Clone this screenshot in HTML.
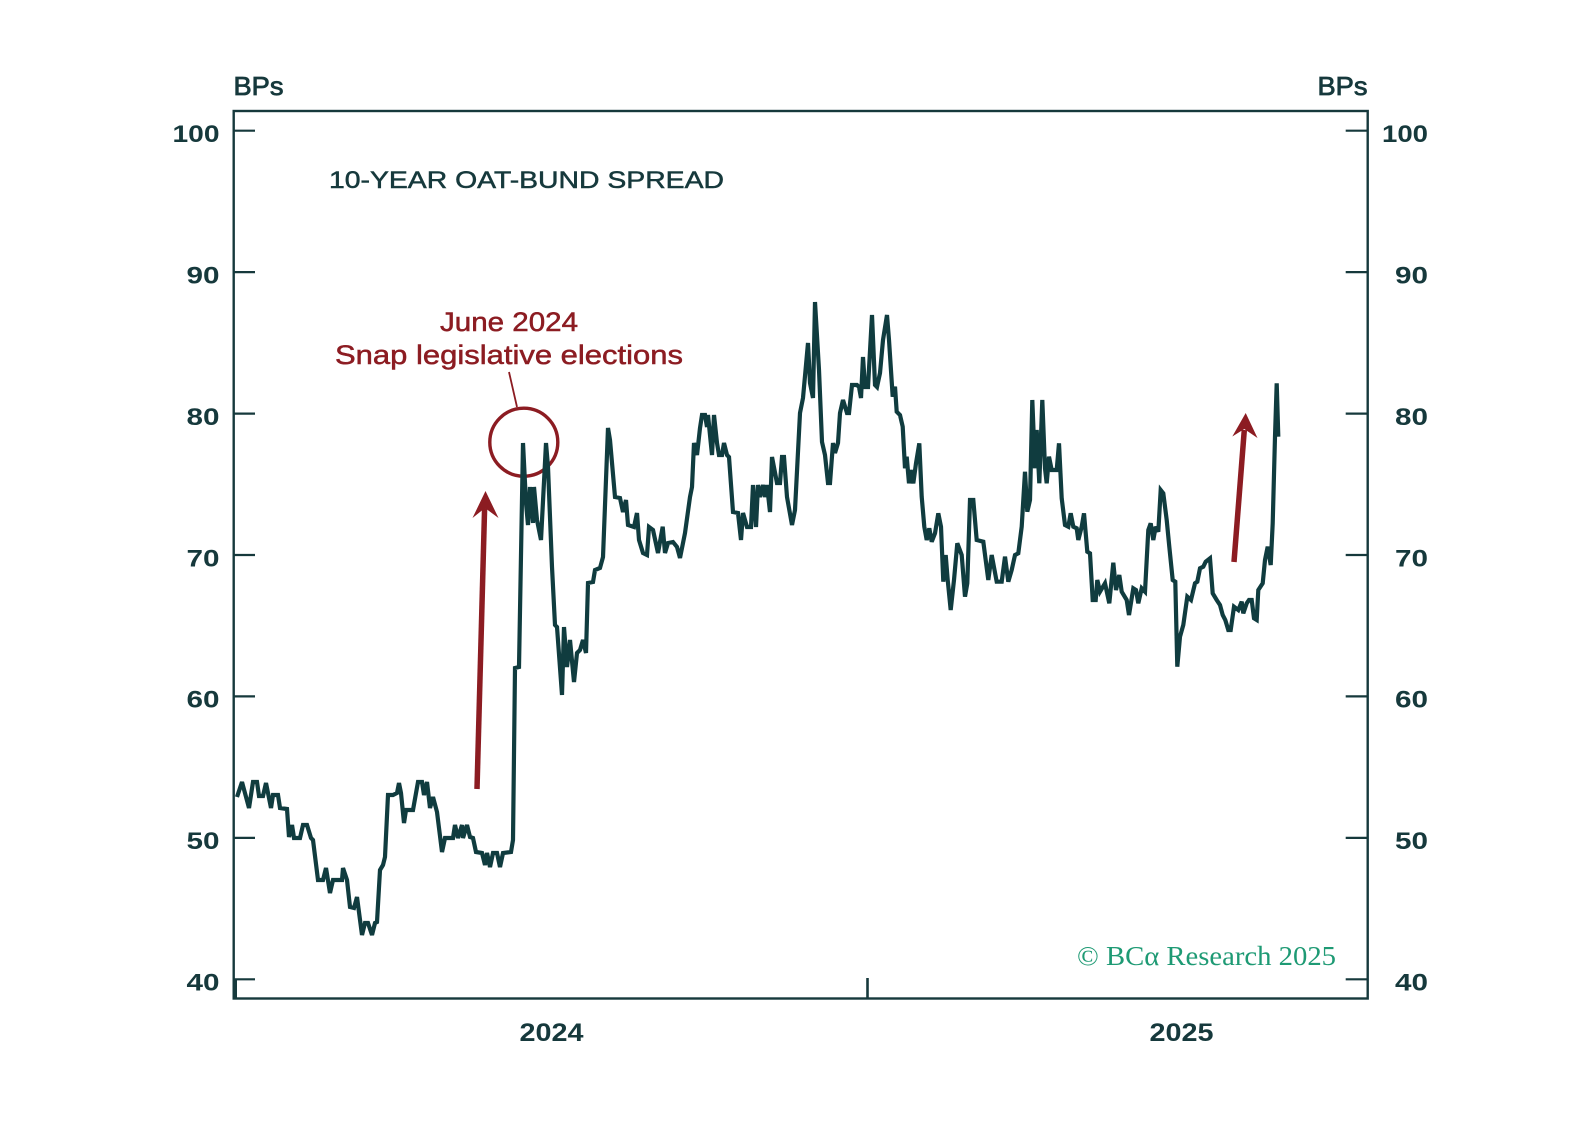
<!DOCTYPE html>
<html>
<head>
<meta charset="utf-8">
<style>
  html, body { margin:0; padding:0; background:#ffffff; }
  svg { display:block; }
</style>
</head>
<body>
<svg width="1593" height="1144" viewBox="0 0 1593 1144" xmlns="http://www.w3.org/2000/svg">
  <rect x="0" y="0" width="1593" height="1144" fill="#ffffff"/>

  <!-- Frame -->
  <rect x="233.7" y="111" width="1134" height="887.5" fill="none" stroke="#16393c" stroke-width="2.4"/>

  <!-- Left ticks -->
  <g stroke="#16393c" stroke-width="2.2">
    <line x1="233.7" y1="130.7" x2="255" y2="130.7"/>
    <line x1="233.7" y1="272.1" x2="255" y2="272.1"/>
    <line x1="233.7" y1="413.6" x2="255" y2="413.6"/>
    <line x1="233.7" y1="555" x2="255" y2="555"/>
    <line x1="233.7" y1="696.4" x2="255" y2="696.4"/>
    <line x1="233.7" y1="837.9" x2="255" y2="837.9"/>
    <line x1="233.7" y1="979.3" x2="255" y2="979.3"/>
    <!-- Right ticks -->
    <line x1="1345.7" y1="130.7" x2="1367.7" y2="130.7"/>
    <line x1="1345.7" y1="272.1" x2="1367.7" y2="272.1"/>
    <line x1="1345.7" y1="413.6" x2="1367.7" y2="413.6"/>
    <line x1="1345.7" y1="555" x2="1367.7" y2="555"/>
    <line x1="1345.7" y1="696.4" x2="1367.7" y2="696.4"/>
    <line x1="1345.7" y1="837.9" x2="1367.7" y2="837.9"/>
    <line x1="1345.7" y1="979.3" x2="1367.7" y2="979.3"/>
  </g>
  <!-- X ticks -->
  <line x1="235.5" y1="979" x2="235.5" y2="998" stroke="#16393c" stroke-width="3"/>
  <line x1="867.5" y1="978" x2="867.5" y2="998" stroke="#16393c" stroke-width="2.6"/>

  <!-- Tick labels left -->
  <g font-family="Liberation Sans, sans-serif" font-weight="bold" font-size="24" fill="#16393c" text-anchor="end">
    <text x="219.5" y="142" textLength="47" lengthAdjust="spacingAndGlyphs">100</text>
    <text x="219.5" y="283.4" textLength="33" lengthAdjust="spacingAndGlyphs">90</text>
    <text x="219.5" y="424.9" textLength="33" lengthAdjust="spacingAndGlyphs">80</text>
    <text x="219.5" y="566.3" textLength="33" lengthAdjust="spacingAndGlyphs">70</text>
    <text x="219.5" y="707.7" textLength="33" lengthAdjust="spacingAndGlyphs">60</text>
    <text x="219.5" y="849.2" textLength="33" lengthAdjust="spacingAndGlyphs">50</text>
    <text x="219.5" y="990.6" textLength="33" lengthAdjust="spacingAndGlyphs">40</text>
  </g>
  <!-- Tick labels right -->
  <g font-family="Liberation Sans, sans-serif" font-weight="bold" font-size="24" fill="#16393c" text-anchor="end">
    <text x="1428" y="142" textLength="46" lengthAdjust="spacingAndGlyphs">100</text>
    <text x="1428" y="283.4" textLength="33" lengthAdjust="spacingAndGlyphs">90</text>
    <text x="1428" y="424.9" textLength="33" lengthAdjust="spacingAndGlyphs">80</text>
    <text x="1428" y="566.3" textLength="33" lengthAdjust="spacingAndGlyphs">70</text>
    <text x="1428" y="707.7" textLength="33" lengthAdjust="spacingAndGlyphs">60</text>
    <text x="1428" y="849.2" textLength="33" lengthAdjust="spacingAndGlyphs">50</text>
    <text x="1428" y="990.6" textLength="33" lengthAdjust="spacingAndGlyphs">40</text>
  </g>

  <!-- Axis unit labels -->
  <g font-family="Liberation Sans, sans-serif" font-size="26" fill="#16393c" stroke="#16393c" stroke-width="0.8">
    <text x="233.5" y="95" textLength="50" lengthAdjust="spacingAndGlyphs">BPs</text>
    <text x="1367.5" y="95" text-anchor="end" textLength="50" lengthAdjust="spacingAndGlyphs">BPs</text>
  </g>

  <!-- Year labels -->
  <g font-family="Liberation Sans, sans-serif" font-weight="bold" font-size="25" fill="#16393c" text-anchor="middle">
    <text x="551.5" y="1041" textLength="64" lengthAdjust="spacingAndGlyphs">2024</text>
    <text x="1181.5" y="1041" textLength="64" lengthAdjust="spacingAndGlyphs">2025</text>
  </g>

  <!-- Title -->
  <text x="329" y="188" font-family="Liberation Sans, sans-serif" font-size="24" fill="#16393c" stroke="#16393c" stroke-width="0.5" textLength="395" lengthAdjust="spacingAndGlyphs">10-YEAR OAT-BUND SPREAD</text>

  <!-- Annotation -->
  <g font-family="Liberation Sans, sans-serif" font-size="26.5" fill="#8c1c22" stroke="#8c1c22" stroke-width="0.5">
    <text x="440" y="331" textLength="138" lengthAdjust="spacingAndGlyphs">June 2024</text>
    <text x="335" y="364" textLength="348" lengthAdjust="spacingAndGlyphs">Snap legislative elections</text>
  </g>
  <line x1="509" y1="372" x2="517" y2="407" stroke="#8c1c22" stroke-width="1.8"/>
  <circle cx="523.8" cy="442.2" r="34" fill="none" stroke="#8c1c22" stroke-width="3.4"/>

  <!-- Series -->
  <path fill="none" stroke="#103c3f" stroke-width="4.2" stroke-linejoin="miter" stroke-miterlimit="3" stroke-linecap="butt" d="
M237,797 L242,782 L249,808 L253,782 L257,782 L259,796 L263,796 L266,783 L268,793 L271,808 L273,795 L278,795 L280,808 L287,809 L289,837 L292,825 L294,838 L300,838 L303,825 L307,825 L311,838 L313,840 L318,880 L323,880 L326,868 L330,893 L333,880 L342,880 L343,868 L347,880 L350,907 L354,908 L357,897 L362,935 L365,923 L368,923 L372,935 L375,923 L377,922 L380,870 L383,865 L385,857 L388,795 L393,795 L397,793 L399,783 L401,793 L404,823 L406,810 L413,810 L418,782 L422,782 L424,795 L427,782 L430,808 L433,797 L437,812 L442,852 L445,838 L453,838 L455,825 L458,838 L462,825 L463,838 L467,825 L470,837 L473,838 L476,852 L482,853 L485,865 L487,853 L490,867 L493,853 L497,853 L500,867 L503,853 L511,852
L513,840 L515,668 L519,667 L523,443 L526,503 L528,525 L530,487 L533,523 L534,487 L537,520 L541,540 L546,443 L548,467 L552,567 L555,625 L557,627 L562,695 L564,627 L567,667 L570,640 L574,682 L577,653 L580,650 L583,640 L586,653 L588,583 L593,582 L595,570 L600,568 L603,557 L608,428 L610,440 L615,497 L620,498 L623,512 L626,500 L628,525 L634,527 L637,513 L639,540 L643,553 L647,555 L649,527 L653,530 L658,553
L662.7,526.7 L665,553 L668,543 L673,542 L677,547 L680,558 L685,533 L690,497 L692,487 L694,443 L697,455 L700,428 L702,415 L705,415 L707,427 L708,415 L712,455 L714,415 L717,443 L719,455 L722,455 L724,443 L727,455 L729,457 L733,512 L738,513 L741,540 L743,513 L747,527 L751,527 L753,485 L756,527 L758,485 L760,497 L763,485 L765,497 L767,485 L770,512 L772,457 L777,483 L780,483 L782,457 L784,457 L787,497 L792,525 L795,510 L800,413 L803,398 L808,343 L810,383 L813,398 L815,302 L819,370 L822,442 L825,455 L828,483 L830,483 L833,443 L835,453 L838,443 L840,413 L843,400 L847,413 L849,413 L852,385 L857,385 L859,387 L861,398 L863,357 L865,387 L868,387 L872,315 L875,385 L877,387 L880,373 L883,340 L887,315 L889,340
L892.7,396.7 L895,386.7 L896.7,411.7 L900,415 L902.7,426.7 L905,468.3 L906.7,456.7 L909,483.3 L910.7,470 L913.3,483.3 L916,463.3 L919.3,443.3 L921.7,496.7 L924.3,526.7 L926.7,540 L929.3,528.3 L931.7,541.7 L935,533.3 L938.3,513.3 L941,526.7 L943.3,581.7 L945.7,555 L947.7,580 L950.7,610 L954,580 L957.3,543.3 L961.7,555 L965,596.7 L967.3,583.3 L970,500 L973.3,500 L976.7,540 L983.3,541.7 L988.3,580 L991.7,555 L996.7,581.7 L1001.7,581.7 L1005,556.7 L1008.3,581.7 L1011.7,570 L1015,555 L1018.3,553.3 L1021.7,526.7 L1025,471.7 L1027.3,511.7 L1030,500 L1032.3,400 L1035,468.3 L1036.7,430 L1039.3,483.3 L1042.3,400 L1045,468.3 L1046.7,483.3 L1049,456.7 L1051.7,470 L1056.7,470 L1059,443.3 L1061.7,498.3 L1065,525 L1068.3,526.7 L1070.7,513.3 L1073.3,526.7 L1076.7,528.3 L1078.3,540 L1081.7,526.7
L1084,513.3 L1087.3,551.7 L1090,553.3 L1092.7,600 L1095.7,600 L1097.3,580 L1100,591.7 L1105,583.3 L1109.3,603.3 L1113.3,562.7 L1116,590 L1119.3,575 L1121.7,591.7 L1126.7,600 L1129,615 L1133.3,588.3 L1136,590 L1138.3,603.3 L1141.7,588.3 L1145,591.7 L1148.3,530 L1150.7,523.3 L1153.3,540 L1155.7,526.7 L1158.3,531.7 L1160.7,490 L1163.3,493.3 L1166.7,520 L1169.3,546.7 L1172.7,580 L1175.3,581.7 L1177.3,666.7 L1180,636.7 L1183.3,625 L1187.3,596.7 L1191,600 L1195,583.3 L1197.3,581.7 L1200,568.3 L1203.3,566.7 L1205.7,561.7 L1210,558.3 L1212.7,593.3 L1216.7,600 L1220,605 L1222.7,615 L1225.3,620 L1228.3,630 L1230.7,630 L1234,606.7 L1238.3,610 L1241.7,601.7 L1243.3,613.3 L1246.7,603.3 L1249,600 L1251.7,600 L1254,618.3 L1256.7,620 L1258.3,590 L1262.7,583.3 L1265,560 L1267.7,546.7 L1270.7,565 L1272.7,523.3 L1275,436.7 L1276.7,383.3 L1278.3,436.7"/>

  <!-- Arrow 1 -->
  <line x1="477" y1="789" x2="484.6" y2="508" stroke="#8c1c22" stroke-width="5.5"/>
  <polygon points="485.5,491 498.5,518 485,508 472.5,518" fill="#8c1c22"/>
  <!-- Arrow 2 -->
  <line x1="1234" y1="562" x2="1244.3" y2="430" stroke="#8c1c22" stroke-width="5.5"/>
  <polygon points="1245.7,413 1257.5,438 1244.3,429 1232.3,436.5" fill="#8c1c22"/>

  <!-- Copyright -->
  <text x="1077" y="965" font-family="Liberation Serif, serif" font-size="27" fill="#1e9a74" textLength="259" lengthAdjust="spacingAndGlyphs">© BCα Research 2025</text>
</svg>
</body>
</html>
